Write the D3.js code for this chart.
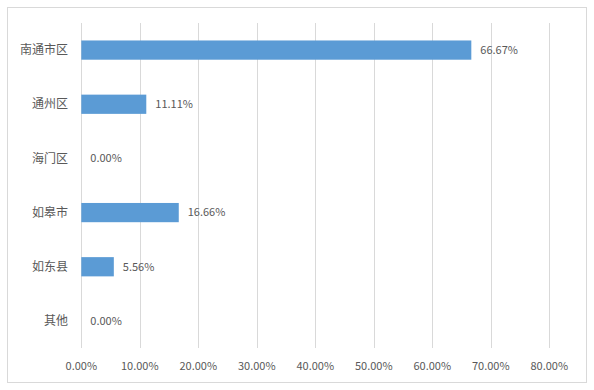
<!DOCTYPE html>
<html>
<head>
<meta charset="utf-8">
<script src="https://cdn.jsdelivr.net/npm/d3@7"></script>
<style>
  body { margin: 0; background: #fff; }
  text { font-family: "Noto Sans CJK SC", "Open Sans", sans-serif; fill: #595959; }
</style>
</head>
<body>
<div id="chart"></div>
<script>
// Chart data
const categories = ["南通市区", "通州区", "海门区", "如皋市", "如东县", "其他"];
const values = [66.67, 11.11, 0.00, 16.66, 5.56, 0.00];
const tickValues = [0, 10, 20, 30, 40, 50, 60, 70, 80];

const width = 594;
const height = 390;

const svg = d3.select("#chart")
  .append("svg")
  .attr("width", width)
  .attr("height", height);

// Outer frame
svg.append("rect")
  .attr("x", 7.5)
  .attr("y", 7.5)
  .attr("width", 579)
  .attr("height", 375)
  .attr("fill", "#fff")
  .attr("stroke", "#d9d9d9");

const plot = { left: 81.3, right: 549.3, top: 23, bottom: 348 };

const x = d3.scaleLinear()
  .domain([0, 80])
  .range([plot.left, plot.right]);

const y = d3.scaleBand()
  .domain(categories)
  .range([plot.top, plot.bottom])
  .paddingInner(0.645)
  .paddingOuter(0.3225);

// Gridlines
svg.append("g")
  .selectAll("line")
  .data(tickValues)
  .join("line")
  .attr("x1", (d) => Math.round(x(d)) + 0.5)
  .attr("x2", (d) => Math.round(x(d)) + 0.5)
  .attr("y1", plot.top)
  .attr("y2", plot.bottom)
  .attr("stroke", "#d9d9d9")
  .attr("stroke-width", 1);

// Tick labels
svg.append("g")
  .selectAll("text")
  .data(tickValues)
  .join("text")
  .attr("x", (d) => x(d))
  .attr("y", 370)
  .attr("text-anchor", "middle")
  .style("font-size", "11px")
  .text((d) => d.toFixed(2) + "%");

// Category labels
svg.append("g")
  .selectAll("text")
  .data(categories)
  .join("text")
  .attr("x", 68)
  .attr("y", (d) => y(d) + y.bandwidth() / 2)
  .attr("dy", "0.35em")
  .attr("text-anchor", "end")
  .style("font-size", "12px")
  .text((d) => d);

// Bars
svg.append("g")
  .selectAll("rect")
  .data(values)
  .join("rect")
  .attr("x", x(0))
  .attr("y", (d, i) => y(categories[i]))
  .attr("width", (d) => x(d) - x(0))
  .attr("height", y.bandwidth())
  .attr("fill", "#5b9bd5");

// Value labels
svg.append("g")
  .selectAll("text")
  .data(values)
  .join("text")
  .attr("x", (d) => x(d) + 9)
  .attr("y", (d, i) => y(categories[i]) + y.bandwidth() / 2)
  .attr("dy", "0.35em")
  .style("font-size", "11px")
  .text((d) => d.toFixed(2) + "%");
</script>
</body>
</html>
